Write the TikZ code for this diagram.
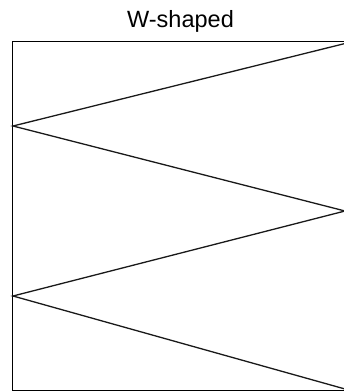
\documentclass[tikz,border=0pt]{standalone}
\usepackage{fontspec}
\setmainfont{Liberation Sans}
\begin{document}
\begin{tikzpicture}[x=1pt,y=-1pt,
  frame/.style={draw=black,line width=1.6pt},
  zig/.style={draw=black!90,line width=1.3pt},
  title/.style={font=\fontsize{23.5}{26}\selectfont,inner sep=0pt,anchor=base}]
\useasboundingbox (0,0) rectangle (344,392);
\begin{scope}
\clip (0,0) rectangle (344,392);
\draw[frame] (12.5,41.5) rectangle (348,390.5);
\coordinate (p1) at (345,43.5);
\coordinate (p2) at (13,126);
\coordinate (p3) at (345,211);
\coordinate (p4) at (13,296);
\coordinate (p5) at (345,389);
\draw[zig] (p1) -- (p2) -- (p3) -- (p4) -- (p5);
\end{scope}
\node[title] (t) at (180.5,27) {W-shaped};
\end{tikzpicture}
\end{document}
